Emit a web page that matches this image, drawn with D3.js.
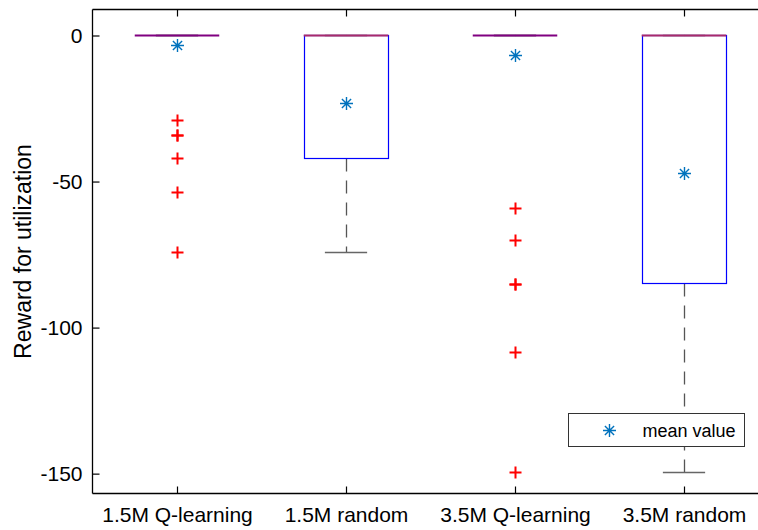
<!DOCTYPE html>
<html>
<head>
<meta charset="utf-8">
<script src="https://cdn.jsdelivr.net/npm/d3@7"></script>
<style>
  html, body { margin: 0; padding: 0; background: #fff; }
  svg { display: block; font-family: "Liberation Sans", Arial, Helvetica, sans-serif; }
</style>
</head>
<body>
<svg id="chart" width="758" height="530"></svg>
<script>
// Box-plot summary per method
const categories = ["1.5M Q-learning", "1.5M random", "3.5M Q-learning", "3.5M random"];
const q1Values = [0, -41.8, 0, -84.8];
const medianValues = [0, 0, 0, 0];
const q3Values = [0, 0, 0, 0];
const lowerWhisker = [0, -74.2, 0, -149.3];
const upperWhisker = [0, 0, 0, 0];
const meanValues = [-3.4, -23.2, -6.7, -47.2];
const outlierValues = [
  [-28.8, -34.1, -34.1, -41.9, -53.7, -74.2],
  [],
  [-59.1, -69.9, -85.0, -85.0, -108.4, -149.5],
  []
];
const yTicks = [0, -50, -100, -150];
const yLabel = "Reward for utilization";
const legendLabel = "mean value";

const svg = d3.select("#chart");
const plot = { left: 92.5, top: 9.5, right: 768.5, bottom: 493.5 };

const x = d3.scaleLinear().domain([0.5, 4.5]).range([plot.left, plot.right]);
const y = d3.scaleLinear().domain([-156.8, 8.9]).range([plot.bottom, plot.top]);
const py = v => Math.round(y(v)) + 0.5;
const px = v => Math.round(x(v)) + 0.5;

const boxHalf = 0.25, capHalf = 0.125;
const idx = d3.range(categories.length);
const g = svg.append("g");

// Whiskers (dashed) from box edges to the adjacent values
g.selectAll("line.wlo").data(idx).join("line")
  .attr("x1", i => px(i + 1)).attr("x2", i => px(i + 1))
  .attr("y1", i => py(q1Values[i])).attr("y2", i => py(lowerWhisker[i]))
  .attr("stroke", "#555").attr("stroke-width", 1.3).attr("stroke-dasharray", "13,9");
g.selectAll("line.whi").data(idx).join("line")
  .attr("x1", i => px(i + 1)).attr("x2", i => px(i + 1))
  .attr("y1", i => py(q3Values[i])).attr("y2", i => py(upperWhisker[i]))
  .attr("stroke", "#555").attr("stroke-width", 1.3).attr("stroke-dasharray", "13,9");

// Whisker caps
[lowerWhisker, upperWhisker].forEach(arr => {
  g.append("g").selectAll("line").data(idx).join("line")
    .attr("x1", i => x(i + 1 - capHalf)).attr("x2", i => x(i + 1 + capHalf))
    .attr("y1", i => py(arr[i])).attr("y2", i => py(arr[i]))
    .attr("stroke", "#666").attr("stroke-width", 1.3);
});

// Boxes
g.selectAll("rect.box").data(idx).join("rect")
  .attr("x", i => px(i + 1 - boxHalf))
  .attr("width", i => Math.round(x(i + 1 + boxHalf)) - Math.round(x(i + 1 - boxHalf)))
  .attr("y", i => py(q3Values[i]))
  .attr("height", i => py(q1Values[i]) - py(q3Values[i]))
  .attr("fill", "none").attr("stroke", "#0000ff").attr("stroke-width", 1.2);

// Medians: red line blended with the blue box edge beneath it
g.selectAll("line.med").data(idx).join("line")
  .attr("x1", i => x(i + 1 - boxHalf)).attr("x2", i => x(i + 1 + boxHalf))
  .attr("y1", i => py(medianValues[i]))
  .attr("y2", i => py(medianValues[i]))
  .attr("stroke", i => q1Values[i] === q3Values[i] ? "#800080" : "#a82a6c")
  .attr("stroke-width", 2.2);

// Outliers as red plus signs
const plus = (cx, cy, r) => `M${cx - r},${cy}H${cx + r}M${cx},${cy - r}V${cy + r}`;
const outPts = [];
outlierValues.forEach((arr, i) => arr.forEach(v => outPts.push({ i, v })));
g.selectAll("path.out").data(outPts).join("path")
  .attr("d", d => plus(px(d.i + 1), py(d.v), 6))
  .attr("stroke", "#ff0000").attr("stroke-width", 2).attr("fill", "none");

// Mean markers as asterisks
const star = (cx, cy, r) => {
  const d = r * Math.SQRT1_2;
  return `M${cx - r},${cy}H${cx + r}M${cx},${cy - r}V${cy + r}` +
         `M${cx - d},${cy - d}L${cx + d},${cy + d}M${cx - d},${cy + d}L${cx + d},${cy - d}`;
};
g.selectAll("path.mean").data(idx).join("path")
  .attr("d", i => star(px(i + 1), py(meanValues[i]), 6.5))
  .attr("stroke", "#0072BD").attr("stroke-width", 1.4).attr("fill", "none");

// Axes frame
const frame = svg.append("g").attr("stroke", "#000").attr("stroke-width", 1.3).attr("fill", "none");
frame.append("line").attr("x1", plot.left).attr("x2", plot.right).attr("y1", plot.top).attr("y2", plot.top);
frame.append("line").attr("x1", plot.left).attr("x2", plot.right).attr("y1", plot.bottom).attr("y2", plot.bottom);
frame.append("line").attr("x1", plot.left).attr("x2", plot.left).attr("y1", plot.top).attr("y2", plot.bottom);

// Y axis (ticks point inward)
const yAxis = svg.append("g").attr("transform", `translate(${plot.left},0)`)
  .call(d3.axisLeft(y).tickValues(yTicks).tickSize(-7).tickPadding(10).tickFormat(d => String(d)));
yAxis.select(".domain").remove();
yAxis.selectAll("line").attr("stroke", "#000").attr("stroke-width", 1.2);
yAxis.selectAll("text").attr("font-size", 21).attr("fill", "#000")
  .attr("font-family", "Liberation Sans, Arial, sans-serif");

// X axis bottom with category labels
const xAxis = svg.append("g").attr("transform", `translate(0,${plot.bottom})`)
  .call(d3.axisBottom(x).tickValues(d3.range(1, categories.length + 1))
    .tickSize(-7).tickPadding(14).tickFormat(d => categories[d - 1]));
xAxis.select(".domain").remove();
xAxis.selectAll("line").attr("stroke", "#000").attr("stroke-width", 1.2);
xAxis.selectAll("text").attr("font-size", 21).attr("fill", "#000")
  .attr("font-family", "Liberation Sans, Arial, sans-serif");

// Top ticks
const xTop = svg.append("g").attr("transform", `translate(0,${plot.top})`)
  .call(d3.axisTop(x).tickValues(d3.range(1, categories.length + 1)).tickSize(-7).tickFormat(""));
xTop.select(".domain").remove();
xTop.selectAll("line").attr("stroke", "#000").attr("stroke-width", 1.2);

// Y axis title
svg.append("text")
  .attr("transform", `translate(31,${(plot.top + plot.bottom) / 2}) rotate(-90)`)
  .attr("text-anchor", "middle")
  .attr("font-size", 23).attr("fill", "#000")
  .text(yLabel);

// Legend
const lg = svg.append("g").attr("transform", "translate(568.5,413.5)");
lg.append("rect").attr("width", 176).attr("height", 33)
  .attr("fill", "#fff").attr("stroke", "#333").attr("stroke-width", 1);
lg.append("path").attr("d", star(41, 17, 6.5))
  .attr("stroke", "#0072BD").attr("stroke-width", 1.4).attr("fill", "none");
lg.append("text").attr("x", 74).attr("y", 23.5)
  .attr("font-size", 18).attr("fill", "#000").text(legendLabel);
</script>
</body>
</html>
